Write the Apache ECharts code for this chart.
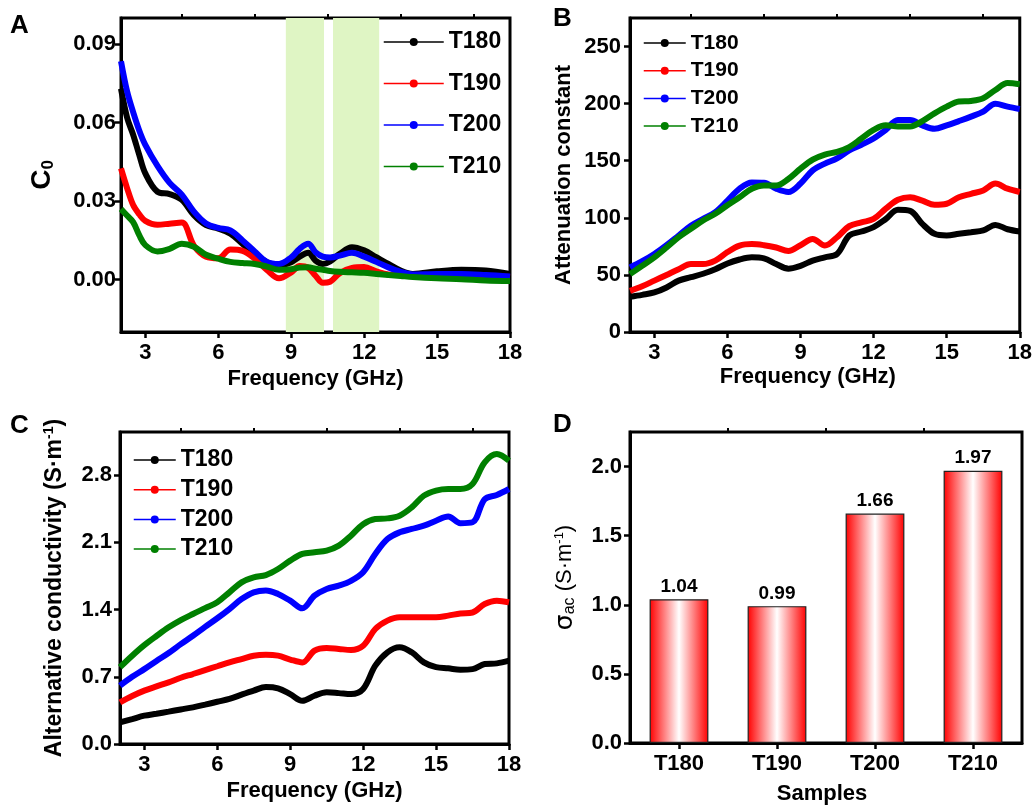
<!DOCTYPE html>
<html><head><meta charset="utf-8">
<script src="https://cdn.jsdelivr.net/npm/echarts@6/dist/echarts.min.js"></script>
<style>html,body{margin:0;padding:0;background:#fff}#c{width:1035px;height:807px}</style>
</head><body><div id="c"></div>
<script>
// ---------- DATA ----------
const sampleNames = ['T180', 'T190', 'T200', 'T210'];
const lineColors = ['#000000', '#ff0000', '#0000ff', '#008000'];

// Panel A: C0 vs frequency
const freqA = [2, 2.25, 2.5, 2.75, 3, 3.5, 4, 4.5, 5, 5.5, 6, 6.5, 7, 7.5, 8, 8.5, 9, 9.35, 9.7, 10, 10.3, 10.6, 11, 11.5, 12, 12.5, 13, 13.5, 14, 15, 16, 17, 18];
const c0_T180 = [0.073, 0.062, 0.0554, 0.0477, 0.0406, 0.0336, 0.0327, 0.0305, 0.0246, 0.0208, 0.0195, 0.0176, 0.0137, 0.0099, 0.0067, 0.0054, 0.0067, 0.0088, 0.0103, 0.0073, 0.006, 0.007, 0.0099, 0.0124, 0.0112, 0.0086, 0.006, 0.0035, 0.0022, 0.0032, 0.0038, 0.0035, 0.0022];
const c0_T190 = [0.0425, 0.035, 0.0285, 0.025, 0.0225, 0.021, 0.0214, 0.0218, 0.013, 0.0088, 0.0082, 0.0115, 0.011, 0.008, 0.0037, 0.0005, 0.0028, 0.0052, 0.0045, 0.0015, -0.0012, -0.0008, 0.0025, 0.0045, 0.0048, 0.0032, 0.002, 0.0018, 0.0018, 0.0018, 0.0018, 0.0015, 0.001];
const c0_T200 = [0.0835, 0.072, 0.064, 0.057, 0.0515, 0.0435, 0.037, 0.0325, 0.026, 0.0215, 0.0198, 0.0188, 0.015, 0.0108, 0.0068, 0.006, 0.0085, 0.0118, 0.0137, 0.0105, 0.0088, 0.0085, 0.0092, 0.0103, 0.0088, 0.0068, 0.0047, 0.003, 0.002, 0.0022, 0.0022, 0.0018, 0.0012];
const c0_T210 = [0.027, 0.0245, 0.022, 0.017, 0.0132, 0.0108, 0.0118, 0.0137, 0.0126, 0.0095, 0.008, 0.0068, 0.0064, 0.006, 0.005, 0.0038, 0.004, 0.0046, 0.0047, 0.0042, 0.0038, 0.0033, 0.003, 0.0028, 0.0026, 0.0022, 0.0018, 0.0014, 0.001, 0.0005, 0.0002, -0.0003, -0.0005];
const bandsA = [[8.78, 10.35], [10.72, 12.62]];

// Panel B: attenuation constant
const freqB = [2, 2.5, 3, 3.5, 4, 4.5, 5, 5.5, 6, 6.5, 7, 7.5, 8, 8.5, 9, 9.5, 10, 10.5, 11, 11.5, 12, 12.5, 13, 13.5, 14, 14.5, 15, 15.5, 16, 16.5, 17, 17.5, 18];
const att_T180 = [30.8, 32.5, 34.6, 39, 45, 48, 51, 55, 60, 63.5, 65.4, 64.5, 59.5, 55.5, 58, 62.5, 65.4, 68.3, 84.5, 88, 91.8, 99, 107, 106, 94.7, 86, 84.5, 86, 87.4, 88.9, 93.8, 90, 88];
const att_T190 = [36, 40, 45, 50, 55, 59.5, 59.5, 62.5, 70, 75.7, 77, 76, 74, 71, 76, 81.5, 75.7, 83, 92.7, 96, 99, 108, 115.8, 118, 115, 111.4, 112.3, 118, 121, 124, 130, 125.5, 122.6];
const att_T200 = [56.6, 62, 68.3, 76, 84.5, 93, 99, 105, 115, 125.5, 131, 130.8, 125.5, 122.6, 130, 141.6, 147.5, 152, 159, 164, 169.5, 177, 185.6, 185.6, 181, 178, 181, 184.7, 188.6, 193, 200, 197.4, 195.3];
const att_T210 = [50.7, 58, 65.4, 74, 83, 90.3, 97.7, 103.5, 111, 118, 125.5, 128.4, 128.4, 134, 143, 151, 155.4, 157.8, 162, 169.5, 177, 181, 180, 180, 184.7, 191.5, 197.4, 201.8, 202.3, 204.7, 212, 218, 217];

// Panel C: alternative conductivity
const freqC = freqB;
const sig_T180 = [0.226, 0.26, 0.295, 0.315, 0.337, 0.36, 0.382, 0.41, 0.44, 0.47, 0.514, 0.556, 0.594, 0.58, 0.52, 0.45, 0.503, 0.538, 0.53, 0.52, 0.573, 0.816, 0.955, 1.007, 0.955, 0.85, 0.8, 0.788, 0.774, 0.78, 0.833, 0.84, 0.868];
const sig_T190 = [0.434, 0.5, 0.556, 0.6, 0.642, 0.69, 0.729, 0.77, 0.81, 0.85, 0.885, 0.92, 0.93, 0.92, 0.88, 0.85, 0.972, 1.0, 0.99, 0.98, 1.024, 1.198, 1.285, 1.32, 1.32, 1.32, 1.32, 1.337, 1.36, 1.37, 1.458, 1.493, 1.476];
const sig_T200 = [0.608, 0.7, 0.78, 0.865, 0.948, 1.04, 1.128, 1.22, 1.31, 1.406, 1.51, 1.58, 1.6, 1.5625, 1.493, 1.413, 1.545, 1.615, 1.65, 1.7, 1.79, 1.98, 2.135, 2.205, 2.24, 2.274, 2.326, 2.37, 2.3, 2.31, 2.55, 2.594, 2.656];
const sig_T210 = [0.8, 0.92, 1.03, 1.125, 1.215, 1.29, 1.354, 1.415, 1.476, 1.58, 1.684, 1.736, 1.76, 1.823, 1.91, 1.98, 1.997, 2.014, 2.066, 2.17, 2.29, 2.344, 2.35, 2.378, 2.465, 2.587, 2.64, 2.656, 2.656, 2.708, 2.934, 3.02, 2.95];

// Panel D: sigma_ac bars
const barValues = [1.04, 0.99, 1.66, 1.97];

// Tick values
const freqTicks = [3, 6, 9, 12, 15, 18];
const freqMinorTicks = [4.5, 7.5, 10.5, 13.5, 16.5];
const ticksA = [0, 0.03, 0.06, 0.09];
const ticksB = [0, 50, 100, 150, 200, 250];
const ticksC = [0, 0.7, 1.4, 2.1, 2.8];
const ticksD = [0, 0.5, 1.0, 1.5, 2.0];

// ---------- CHART ----------
const FONT = 'Liberation Sans, Arial, sans-serif';
const chart = echarts.init(document.getElementById('c'), null, {renderer: 'canvas'});

const grids = [
  {left: 121, top: 18, width: 389, height: 314},
  {left: 630, top: 18, width: 390, height: 314},
  {left: 120, top: 432, width: 389, height: 312},
  {left: 630, top: 432, width: 392, height: 311}
].map(g => Object.assign(g, {show: true, borderColor: '#000', borderWidth: 3, backgroundColor: 'transparent'}));

const tickLbl = {fontFamily: FONT, fontWeight: 'bold', fontSize: 22, color: '#000'};
const axisLineStyle = {show: true, onZero: false, lineStyle: {color: '#000', width: 3}};

function freqAxes(gi, gap, pad) {
  return [
    {type: 'value', gridIndex: gi, min: 2, max: 18, name: 'Frequency (GHz)', nameLocation: 'middle', nameGap: gap,
     nameTextStyle: {fontFamily: FONT, fontWeight: 'bold', fontSize: 22, color: '#000', padding: pad},
     axisLine: axisLineStyle, splitLine: {show: false},
     axisTick: {show: true, customValues: freqTicks, length: 6, lineStyle: {color: '#000', width: 2.5}},
     axisLabel: Object.assign({customValues: freqTicks, margin: 10}, tickLbl)},
    {type: 'value', gridIndex: gi, min: 2, max: 18, axisLine: {show: false, onZero: false}, splitLine: {show: false},
     axisTick: {show: true, customValues: freqMinorTicks, length: 4, lineStyle: {color: '#000', width: 2}},
     axisLabel: {show: false}}
  ];
}

function yAxis(gi, min, max, ticks, dec, name, rich, gap, margin, fs, pad) {
  return {type: 'value', gridIndex: gi, min: min, max: max, name: name, nameLocation: 'middle', nameGap: gap,
    nameTextStyle: {fontFamily: FONT, fontWeight: 'bold', fontSize: fs, color: '#000', rich: rich, padding: pad},
    axisLine: axisLineStyle, splitLine: {show: false},
    axisTick: {show: true, customValues: ticks, length: 6, lineStyle: {color: '#000', width: 2.5}},
    axisLabel: Object.assign({customValues: ticks, margin: margin, formatter: v => Number(v).toFixed(dec)}, tickLbl)};
}

const xAxes = [].concat(freqAxes(0, 36, 0), freqAxes(1, 34, [0, 34, 0, 0]), freqAxes(2, 36, 0));
xAxes.push({type: 'category', gridIndex: 3, data: sampleNames, name: 'Samples', nameLocation: 'middle', nameGap: 40,
  nameTextStyle: {fontFamily: FONT, fontWeight: 'bold', fontSize: 22, color: '#000', padding: [0, 8, 0, 0]},
  axisLine: axisLineStyle, splitLine: {show: false},
  axisTick: {show: true, alignWithLabel: true, length: 6, lineStyle: {color: '#000', width: 2.5}},
  axisLabel: Object.assign({margin: 10}, tickLbl)});
xAxes.push({type: 'value', gridIndex: 3, min: 0, max: 4, axisLine: {show: false, onZero: false}, splitLine: {show: false},
  axisTick: {show: true, customValues: [1, 2, 3], length: 4, lineStyle: {color: '#000', width: 2}}, axisLabel: {show: false}});

const richBold = {
  m: {fontFamily: FONT, fontWeight: 'bold', fontSize: 28, color: '#000', lineHeight: 30},
  s: {fontFamily: FONT, fontWeight: 'bold', fontSize: 17, color: '#000', verticalAlign: 'bottom', lineHeight: 30, padding: [12, 0, 0, 0]},
  n: {fontFamily: FONT, fontWeight: 'bold', fontSize: 23, color: '#000', lineHeight: 26},
  sup: {fontFamily: FONT, fontWeight: 'bold', fontSize: 14, color: '#000', verticalAlign: 'top', lineHeight: 26, padding: [0, 0, 10, 0]}
};
const richReg = {
  g: {fontFamily: 'DejaVu Sans, sans-serif', fontWeight: 'normal', fontSize: 25, color: '#000', lineHeight: 30},
  sub: {fontFamily: FONT, fontWeight: 'normal', fontSize: 16, color: '#000', lineHeight: 30, padding: [10, 0, 0, 0]},
  n: {fontFamily: FONT, fontWeight: 'normal', fontSize: 22, color: '#000', lineHeight: 30},
  sup: {fontFamily: FONT, fontWeight: 'normal', fontSize: 13, color: '#000', lineHeight: 30, padding: [0, 0, 12, 0]}
};

const yAxes = [
  yAxis(0, -0.02, 0.1, ticksA, 2, '{m|C}{s|0}', richBold, 64, 5, 22, 0),
  yAxis(1, 0, 275, ticksB, 0, 'Attenuation constant', null, 55, 9, 22, 0),
  yAxis(2, 0, 3.25, ticksC, 1, '{n|Alternative conductivity (S·m}{sup|-1}{n|)}', richBold, 52, 8, 23, 0),
  yAxis(3, 0, 2.25, ticksD, 1, '{g|σ}{sub|ac}{n| (S·m}{sup|-1}{n|)}', richReg, 50, 8, 22, [0, 0, 0, 20])
];

const series = [];
// shaded bands in panel A
series.push({type: 'line', name: 'bands', xAxisIndex: 0, yAxisIndex: 0, data: [], z: 1, silent: true,
  markArea: {silent: true, itemStyle: {color: '#dff5c4', opacity: 1},
    data: bandsA.map(b => [{xAxis: b[0]}, {xAxis: b[1]}])}});

function addLines(xi, yi, freq, arrs) {
  arrs.forEach((vals, k) => {
    series.push({type: 'line', name: sampleNames[k], xAxisIndex: xi, yAxisIndex: yi, z: 3,
      data: freq.map((f, i) => [f, vals[i]]), smooth: 0.35, symbol: 'circle', showSymbol: false,
      lineStyle: {color: lineColors[k], width: 6}, itemStyle: {color: lineColors[k]}});
  });
}
addLines(0, 0, freqA, [c0_T180, c0_T190, c0_T200, c0_T210]);
addLines(2, 1, freqB, [att_T180, att_T190, att_T200, att_T210]);
addLines(4, 2, freqC, [sig_T180, sig_T190, sig_T200, sig_T210]);

series.push({type: 'bar', name: 'sigma', xAxisIndex: 6, yAxisIndex: 3, data: barValues, barWidth: '60%',
  itemStyle: {borderColor: '#222', borderWidth: 1.2,
    color: new echarts.graphic.LinearGradient(0, 0, 1, 0, [
      {offset: 0, color: '#ff0000'}, {offset: 0.5, color: '#ffffff'}, {offset: 1, color: '#ff0000'}])},
  label: {show: true, position: 'top', distance: 3, fontFamily: FONT, fontWeight: 'bold', fontSize: 19, color: '#000',
    formatter: p => p.value.toFixed(2)}});

function legend(left, top, fs, lh, gap, iw) {
  return {data: sampleNames, orient: 'vertical', left: left, top: top, padding: 0, itemGap: gap,
    itemWidth: iw, itemHeight: 10, selectedMode: false,
    lineStyle: {width: 1.5},
    textStyle: {fontFamily: FONT, fontWeight: 'bold', fontSize: fs, lineHeight: lh, color: '#000'}};
}

const letter = (t, x, y) => ({type: 'text', left: x, top: y,
  style: {text: t, fontFamily: FONT, fontWeight: 'bold', fontSize: 26, fill: '#000'}});

chart.setOption({
  animation: false,
  backgroundColor: '#fff',
  grid: grids,
  xAxis: xAxes,
  yAxis: yAxes,
  legend: [legend(383, 30, 23, 24, 17.5, 60), legend(643, 32, 21, 22, 5.7, 42), legend(133, 448, 23, 24, 5.7, 42)],
  graphic: [letter('A', 10, 13), letter('B', 553, 6), letter('C', 10, 413), letter('D', 553, 412)],
  series: series
});
</script></body></html>
